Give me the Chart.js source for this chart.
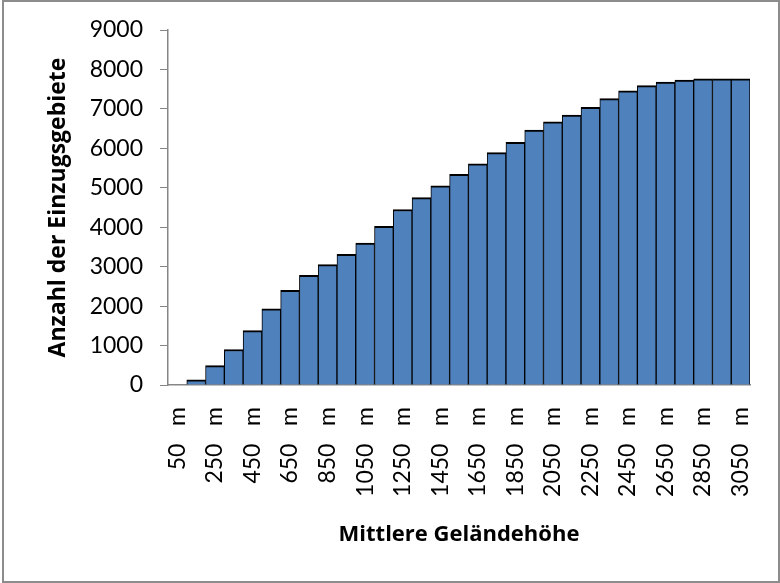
<!DOCTYPE html>
<html>
<head>
<meta charset="utf-8">
<script src="https://cdn.jsdelivr.net/npm/chart.js@4"></script>
<style>
  html, body { margin: 0; padding: 0; background: #fff; }
  #wrap { position: relative; width: 780px; height: 583px; }
  #frame { position: absolute; left: 2px; top: 0px; width: 774px; height: 579px;
           border: 2px solid #8c8c8c; pointer-events: none; }
  canvas { position: absolute; left: 0; top: 0; }
</style>
</head>
<body>
<div id="wrap">
  <canvas id="c" width="780" height="583"></canvas>
  <div id="frame"></div>
</div>
<script>
// Categories (mean elevation)
const categories = ['50   m','150   m','250   m','350   m','450   m','550   m','650   m','750   m',
  '850   m','950   m','1050   m','1150   m','1250   m','1350   m','1450   m','1550   m',
  '1650   m','1750   m','1850   m','1950   m','2050   m','2150   m','2250   m','2350   m',
  '2450   m','2550   m','2650   m','2750   m','2850   m','2950   m','3050   m'];
// Number of catchments (estimated from the bars)
const counts = [0, 130, 490, 900, 1380, 1930, 2400, 2780, 3050, 3310, 3600, 4020, 4450, 4750,
  5050, 5340, 5610, 5890, 6150, 6460, 6670, 6840, 7040, 7260, 7460, 7590, 7680, 7730, 7760, 7760, 7760];
// y-axis tick settings
const yMin = 0, yMax = 9000, yStep = 1000;

const axisGray = '#868686';
new Chart(document.getElementById('c'), {
  type: 'bar',
  data: {
    labels: categories,
    datasets: [{
      data: counts,
      backgroundColor: '#4F81BD',
      borderColor: '#000000',
      borderWidth: { top: 2, left: 1, right: 1, bottom: 0 },
      barPercentage: 1,
      categoryPercentage: 1
    }]
  },
  options: {
    responsive: false,
    animation: false,
    layout: { padding: { left: 41, right: 30, top: 30, bottom: 31 } },
    plugins: { legend: { display: false }, tooltip: { enabled: false } },
    scales: {
      x: {
        grid: { drawOnChartArea: false, drawTicks: false, color: axisGray },
        border: { color: axisGray, width: 1.5 },
        ticks: {
          autoSkip: false, minRotation: 90, maxRotation: 90, padding: 22,
          color: '#000', font: { family: 'Lato', size: 23 },
          callback: function(v, i) { return i % 2 === 0 ? this.getLabelForValue(v) : ''; }
        },
        title: { display: true, text: 'Mittlere Geländehöhe', color: '#000',
                 font: { family: 'Open Sans', size: 22, weight: 'bold' } },
        afterFit: function(s) { s.height = 167; s.paddingLeft = 0; s.paddingRight = 0; }
      },
      y: {
        min: yMin, max: yMax,
        grid: { drawOnChartArea: false, drawTicks: true, tickLength: 8, color: axisGray },
        border: { color: axisGray, width: 1.5 },
        ticks: { stepSize: yStep, padding: 17, color: '#000',
                 font: { family: 'Lato', size: 23 },
                 callback: function(v) { return String(v); } },
        title: { display: true, text: 'Anzahl der Einzugsgebiete', color: '#000',
                 font: { family: 'Open Sans', size: 23, weight: 'bold' } },
        afterFit: function(s) { s.width = 127; s.paddingTop = 0; s.paddingBottom = 0; }
      }
    }
  }
});
</script>
</body>
</html>
